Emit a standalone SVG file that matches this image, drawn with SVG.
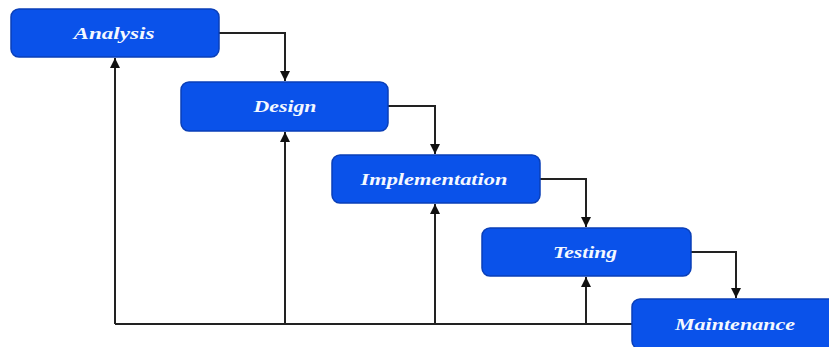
<svg xmlns="http://www.w3.org/2000/svg" width="829" height="347" viewBox="0 0 829 347">
  <defs>
    <marker id="arrow" viewBox="0 0 10 10" refX="10" refY="5" markerWidth="10" markerHeight="10" markerUnits="userSpaceOnUse" orient="auto">
      <path d="M0,0 L10,5 L0,10 z" fill="#111"/>
    </marker>
  </defs>
  <style>
    .box { fill: #0a52ea; stroke: #0a3fb8; stroke-width: 1.5; }
    .label { font-family: "Liberation Serif", "DejaVu Serif", serif; font-weight: bold; font-style: italic; font-size: 16px; fill: #f4f8ff; text-anchor: middle; dominant-baseline: central; }
    .link { fill: none; stroke: #222; stroke-width: 2; }
  </style>
  <rect width="829" height="347" fill="#ffffff"/>

  <!-- connectors -->
  <g id="connectors">
    <!-- forward flow -->
    <path class="link" d="M219,33 H285 V81" marker-end="url(#arrow)"/>
    <path class="link" d="M388,106 H435 V154" marker-end="url(#arrow)"/>
    <path class="link" d="M540,179 H586 V227" marker-end="url(#arrow)"/>
    <path class="link" d="M691,252 H736 V298" marker-end="url(#arrow)"/>
    <!-- feedback flow -->
    <path class="link" d="M632,324 H115"/>
    <path class="link" d="M115,324 V58" marker-end="url(#arrow)"/>
    <path class="link" d="M285,324 V132" marker-end="url(#arrow)"/>
    <path class="link" d="M435,324 V204" marker-end="url(#arrow)"/>
    <path class="link" d="M586,324 V277" marker-end="url(#arrow)"/>
  </g>

  <g id="analysis">
    <rect class="box" x="11" y="9" width="208" height="48" rx="8"/>
    <text class="label" x="114" y="33" textLength="81" lengthAdjust="spacingAndGlyphs">Analysis</text>
  </g>
  <g id="design">
    <rect class="box" x="181" y="82" width="207" height="49" rx="8"/>
    <text class="label" x="285" y="106" textLength="63" lengthAdjust="spacingAndGlyphs">Design</text>
  </g>
  <g id="implementation">
    <rect class="box" x="332" y="155" width="208" height="48" rx="8"/>
    <text class="label" x="434" y="179" textLength="147" lengthAdjust="spacingAndGlyphs">Implementation</text>
  </g>
  <g id="testing">
    <rect class="box" x="482" y="228" width="209" height="48" rx="8"/>
    <text class="label" x="585" y="252" textLength="64" lengthAdjust="spacingAndGlyphs">Testing</text>
  </g>
  <g id="maintenance">
    <rect class="box" x="632" y="299" width="208" height="50" rx="8"/>
    <text class="label" x="735" y="324" textLength="120" lengthAdjust="spacingAndGlyphs">Maintenance</text>
  </g>
</svg>
